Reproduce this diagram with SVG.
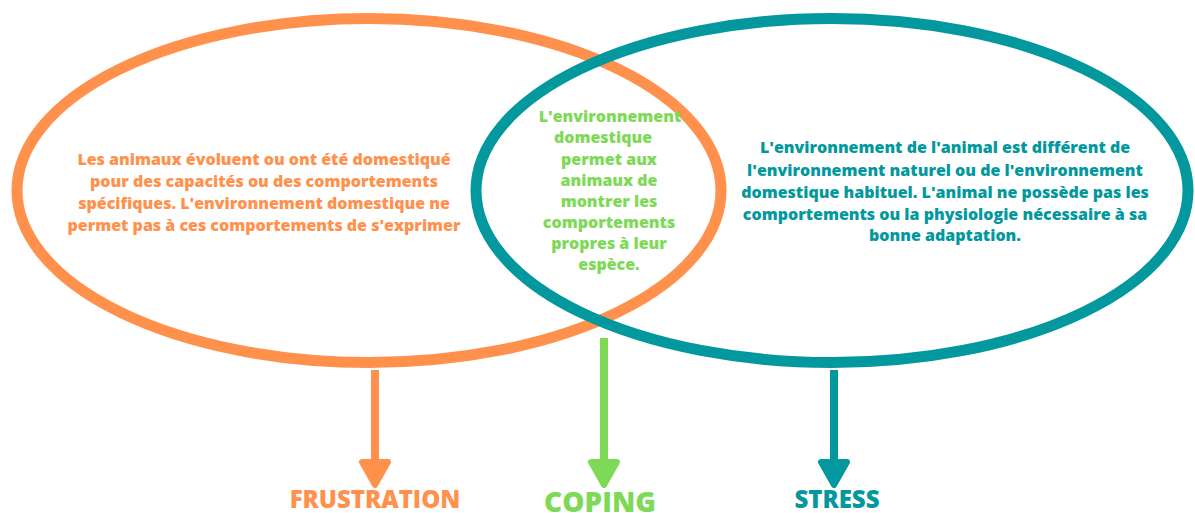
<svg xmlns="http://www.w3.org/2000/svg" width="1195" height="513" viewBox="0 0 1195 513">
<defs>
<style>
.t{font-family:"Open Sans","Liberation Sans",sans-serif;font-weight:800;text-anchor:middle}
.s{font-size:16px}
.o{fill:#FF914D}
.g{fill:#7ED957}
.c{fill:#03989E}
</style>
</defs>
<rect width="1195" height="513" fill="#ffffff"/>
<g id="frustration-circle">
<ellipse cx="369" cy="190.5" rx="352" ry="172" fill="none" stroke="#FF914D" stroke-width="11"/>
</g>
<g id="stress-circle">
<ellipse cx="832" cy="190.5" rx="356" ry="172" fill="none" stroke="#03989E" stroke-width="11"/>
</g>
<g id="frustration-text" class="t s o">
<text x="264" y="165">Les animaux évoluent ou ont été domestiqué</text>
<text x="264" y="187">pour des capacités ou des comportements</text>
<text x="264" y="209">spécifiques. L'environnement domestique ne</text>
<text x="264" y="231">permet pas à  ces comportements de s'exprimer</text>
</g>
<g id="coping-text" class="t s g">
<text x="610" y="122">L'environnement</text>
<text x="603" y="143">domestique</text>
<text x="609" y="165">permet aux</text>
<text x="609" y="186">animaux de</text>
<text x="609" y="207">montrer les</text>
<text x="609" y="228">comportements</text>
<text x="609" y="249">propres à leur</text>
<text x="609" y="270">espèce.</text>
</g>
<g id="stress-text" class="t s c">
<text x="945" y="153">L'environnement de l'animal est différent de</text>
<text x="945" y="176">l'environnement naturel ou de l'environnement</text>
<text x="945" y="198">domestique habituel. L'animal ne possède pas les</text>
<text x="945" y="220">comportements ou la physiologie nécessaire à sa</text>
<text x="945" y="241">bonne adaptation.</text>
</g>
<g id="connectors">
<line x1="375" y1="370" x2="375" y2="465" stroke="#FF914D" stroke-width="8"/>
<path d="M362 462 L388 462 L375 485 Z" fill="#FF914D" stroke="#FF914D" stroke-width="6" stroke-linejoin="round"/>
<line x1="604" y1="338" x2="604" y2="465" stroke="#7ED957" stroke-width="8"/>
<path d="M591 462 L617 462 L604 485 Z" fill="#7ED957" stroke="#7ED957" stroke-width="6" stroke-linejoin="round"/>
<line x1="834" y1="370" x2="834" y2="465" stroke="#03989E" stroke-width="8"/>
<path d="M821 462 L847 462 L834 485 Z" fill="#03989E" stroke="#03989E" stroke-width="6" stroke-linejoin="round"/>
</g>
<g id="frustration-label"><text class="t o" x="375" y="508" font-size="24">FRUSTRATION</text></g>
<g id="coping-label"><text class="t g" x="600" y="512" font-size="28">COPING</text></g>
<g id="stress-label"><text class="t c" x="837" y="508" font-size="24">STRESS</text></g>
</svg>
